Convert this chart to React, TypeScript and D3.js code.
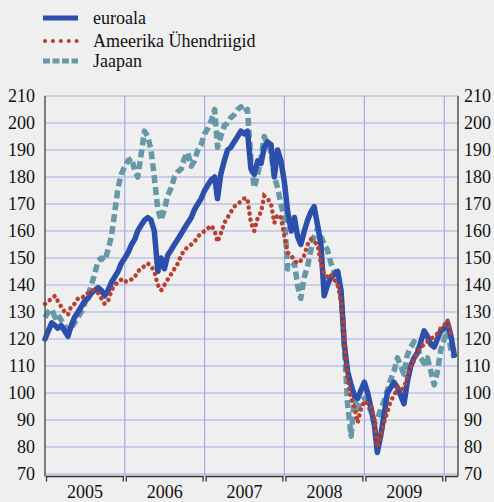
import React from "react";
import * as d3 from "d3";

// semi-monthly observations: 1st and 16th of each month, Jan 2005 – Feb 2010
const dates: Date[] = d3.range(124).map(
  (i) => new Date(2005 + Math.floor(i / 24), Math.floor((i % 24) / 2), i % 2 ? 16 : 1)
);

const euroala = [
  120, 123, 126, 125, 124, 125, 123, 121, 125, 128, 130, 132, 134, 135, 137, 138, 139, 138, 136, 138,
  141, 143, 145, 148, 150, 152, 155, 157, 160, 162, 164, 165, 164, 160, 145, 150, 146, 151, 153, 155,
  157, 159, 161, 163, 165, 168, 170, 172, 175, 177, 179, 180, 172, 181, 186, 190, 191, 193, 195, 197,
  196, 197, 183, 181, 186, 185, 191, 193, 192, 180, 190, 186, 178, 167, 160, 165, 158, 155, 160, 164,
  167, 169, 162, 155, 136, 140, 143, 144, 145, 138, 118, 108, 103, 99, 98, 101, 104, 100, 94, 88,
  78, 84, 92, 100, 102, 104, 102, 99, 96, 104, 110, 113, 115, 119, 123, 121, 118, 117, 120, 123,
  124, 126, 121, 114,
];

const usa = [
  133, 134, 135, 136, 134, 132, 130, 129, 132, 133, 135, 135, 136, 137, 138, 138, 137, 135, 133, 134,
  138, 140, 141, 142, 141, 142, 142, 143, 145, 146, 147, 148, 147, 145, 140, 138, 140, 142, 144, 146,
  148, 151, 153, 154, 155, 156, 158, 159, 160, 161, 162, 160, 156, 159, 163, 165, 167, 169, 170, 171,
  172, 172, 163, 160, 165, 167, 173, 172, 170, 163, 166, 165, 158, 152, 151, 149, 148, 149, 151, 155,
  157, 156, 155, 148, 144, 143, 144, 142, 140, 134, 120, 105, 98, 95, 89, 94, 97, 96, 95, 90,
  80, 84, 89, 93, 97, 99, 102, 101, 102, 106, 110, 112, 115, 117, 118, 119, 120, 121, 122, 124,
  125, 127, 122, 123,
];

const jaapan = [
  128, 130, 131, 128, 129, 127, 125, 123, 124, 126, 128, 130, 133, 136, 140, 144, 149, 150, 149, 153,
  158, 167, 176, 181, 184, 186, 187, 182, 180, 188, 197, 195, 190, 180, 168, 164, 168, 173, 176, 180,
  182, 183, 187, 189, 184, 186, 190, 192, 196, 198, 201, 205, 191, 195, 199, 200, 202, 203, 205, 206,
  204, 205, 186, 176, 181, 187, 195, 192, 189, 180, 176, 170, 165, 146, 146, 148, 140, 135, 143, 147,
  153, 158, 161, 158, 155, 153, 148, 145, 141, 137, 118, 96, 84, 98, 94, 97, 98, 96, 93, 89,
  90, 94, 97, 101, 105, 108, 113, 110, 107, 114, 117, 119, 117, 113, 111, 113, 108, 103, 108, 116,
  120, 123, 116, 113,
];

const yTicks = [70, 80, 90, 100, 110, 120, 130, 140, 150, 160, 170, 180, 190, 200, 210];
const years = [2005, 2006, 2007, 2008, 2009];
const legendLabels = ["euroala", "Ameerika Ühendriigid", "Jaapan"];

const W = 494;
const H = 502;
const L = 45;
const R = 458;
const T = 96;
const B = 474;
const FONT = "Liberation Serif";

const BLUE = "#2c4fab";
const RED = "#b8402f";
const TEAL = "#6698a6";
const GRID = "#a6aae6";

const txt: React.CSSProperties = { fontFamily: FONT, fontSize: "18px" };

export default function App() {
  const x = d3.scaleTime().domain([new Date(2005, 0, 1), new Date(2010, 2, 5)]).range([L, R]);
  const y = d3.scaleLinear().domain([70, 210]).range([B, T]);

  const mk = (vals: number[]) =>
    d3
      .line<number>()
      .x((_, i) => x(dates[i]))
      .y((v) => y(v))(vals) || "";

  const yearBounds = [2005, 2006, 2007, 2008, 2009, 2010].map((yr) => x(new Date(yr, 0, 1)));
  const axisY = 476.5;

  return (
    <div style={{ position: "absolute", left: 0, top: 0 }}>
      <svg width={W} height={H} style={{ display: "block" }}>
        <rect x={0} y={0} width={W} height={H} fill="#efefef" />

        {yTicks.map((t) => (
          <line key={"h" + t} x1={L} x2={R} y1={y(t)} y2={y(t)} stroke={GRID} strokeWidth={1.2} />
        ))}
        {yearBounds.slice(1).map((xx, i) => (
          <line key={"v" + i} x1={xx} x2={xx} y1={T} y2={axisY} stroke={GRID} strokeWidth={1.2} />
        ))}

        <path d={mk(jaapan)} fill="none" stroke={TEAL} strokeWidth={5.5} strokeDasharray="8 4" strokeLinejoin="round" />
        <path d={mk(euroala)} fill="none" stroke={BLUE} strokeWidth={5.5} strokeLinejoin="round" strokeLinecap="round" />
        <path d={mk(usa)} fill="none" stroke={RED} strokeWidth={4.5} strokeDasharray="0.1 6" strokeLinecap="round" />

        <line x1={L} x2={L} y1={T} y2={axisY} stroke="#555" strokeWidth={1.5} />
        <line x1={R} x2={R} y1={T} y2={axisY} stroke="#555" strokeWidth={1.5} />
        {years.map((yr, i) => {
          const x0 = yearBounds[i] + 1.5;
          const x1 = yearBounds[i + 1] - 1.5;
          return (
            <path
              key={"ax" + yr}
              d={`M${x0},${axisY + 5}V${axisY}H${x1}V${axisY + 5}`}
              fill="none"
              stroke="#333"
              strokeWidth={1.3}
            />
          );
        })}
        <path
          d={`M${yearBounds[5] + 1.5},${axisY + 5}V${axisY}H${R}`}
          fill="none"
          stroke="#333"
          strokeWidth={1.3}
        />

        {yTicks.map((t) => (
          <text key={"l" + t} x={35} y={y(t) + 6} textAnchor="end" style={txt} fill="#111">
            {t}
          </text>
        ))}
        {yTicks.map((t) => (
          <text key={"r" + t} x={464} y={y(t) + 6} textAnchor="start" style={txt} fill="#111">
            {t}
          </text>
        ))}

        {years.map((yr, i) => (
          <text
            key={"y" + yr}
            x={(yearBounds[i] + yearBounds[i + 1]) / 2}
            y={498}
            textAnchor="middle"
            style={txt}
            fill="#111"
          >
            {yr}
          </text>
        ))}

        <line x1={43} x2={78} y1={18} y2={18} stroke={BLUE} strokeWidth={5} />
        <line x1={45} x2={78} y1={41} y2={41} stroke={RED} strokeWidth={4} strokeDasharray="0.1 7.8" strokeLinecap="round" />
        <line x1={43} x2={78} y1={61} y2={61} stroke={TEAL} strokeWidth={5} strokeDasharray="7 2.5" />
        {legendLabels.map((lab, i) => (
          <text key={lab} x={93} y={[24, 47, 67][i]} style={txt} fill="#111">
            {lab}
          </text>
        ))}
      </svg>
    </div>
  );
}
